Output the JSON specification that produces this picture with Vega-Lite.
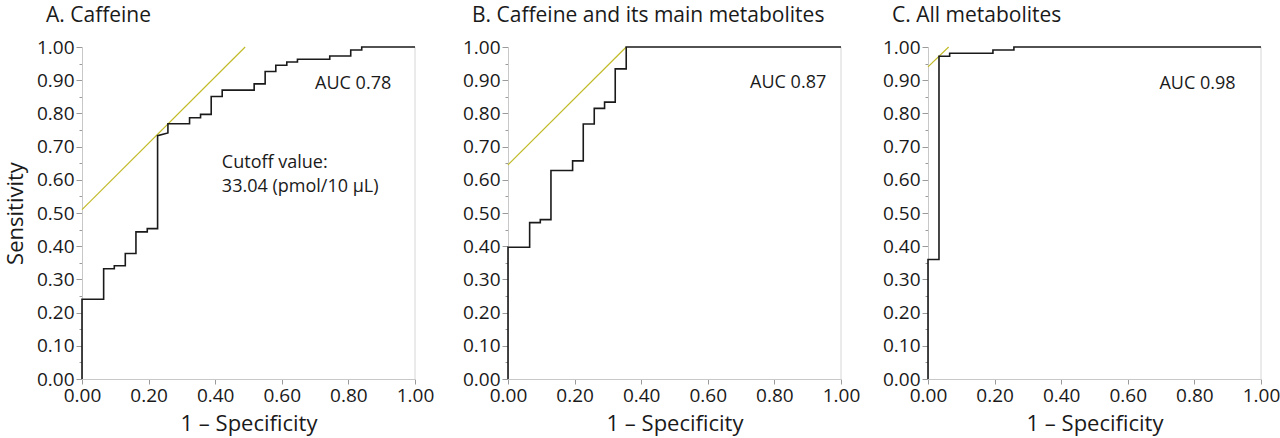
{
  "$schema": "https://vega.github.io/schema/vega-lite/v6.json",
  "padding": {"left": 4, "top": 5, "right": 4, "bottom": 4},
  "background": "white",
  "spacing": 28,
  "config": {
    "font": "Open Sans",
    "view": {"stroke": null},
    "title": {"font": "Open Sans", "fontSize": 21, "fontWeight": "normal", "color": "#1a1a1a", "anchor": "start", "frame": "group", "dx": -36, "offset": 12},
    "axis": {
      "labelFont": "Open Sans", "labelFontSize": 19, "labelColor": "#1a1a1a",
      "titleFont": "Open Sans", "titleFontSize": 22, "titleFontWeight": "normal", "titleColor": "#1a1a1a",
      "domainColor": "#c8c8c8", "tickColor": "#9a9a9a", "grid": false, "labelFlush": false
    }
  },
  "datasets": {
    "roc": [
      {"panel": "A", "i": 0, "fpr": 0, "tpr": 0},
      {"panel": "A", "i": 1, "fpr": 0, "tpr": 0.24},
      {"panel": "A", "i": 2, "fpr": 0.065, "tpr": 0.24},
      {"panel": "A", "i": 3, "fpr": 0.065, "tpr": 0.332},
      {"panel": "A", "i": 4, "fpr": 0.097, "tpr": 0.332},
      {"panel": "A", "i": 5, "fpr": 0.097, "tpr": 0.341},
      {"panel": "A", "i": 6, "fpr": 0.13, "tpr": 0.341},
      {"panel": "A", "i": 7, "fpr": 0.13, "tpr": 0.378},
      {"panel": "A", "i": 8, "fpr": 0.162, "tpr": 0.378},
      {"panel": "A", "i": 9, "fpr": 0.162, "tpr": 0.443},
      {"panel": "A", "i": 10, "fpr": 0.196, "tpr": 0.443},
      {"panel": "A", "i": 11, "fpr": 0.196, "tpr": 0.453},
      {"panel": "A", "i": 12, "fpr": 0.227, "tpr": 0.453},
      {"panel": "A", "i": 13, "fpr": 0.227, "tpr": 0.733},
      {"panel": "A", "i": 14, "fpr": 0.258, "tpr": 0.741},
      {"panel": "A", "i": 15, "fpr": 0.258, "tpr": 0.769},
      {"panel": "A", "i": 16, "fpr": 0.323, "tpr": 0.769},
      {"panel": "A", "i": 17, "fpr": 0.323, "tpr": 0.787},
      {"panel": "A", "i": 18, "fpr": 0.356, "tpr": 0.787},
      {"panel": "A", "i": 19, "fpr": 0.356, "tpr": 0.797},
      {"panel": "A", "i": 20, "fpr": 0.388, "tpr": 0.797},
      {"panel": "A", "i": 21, "fpr": 0.388, "tpr": 0.851},
      {"panel": "A", "i": 22, "fpr": 0.421, "tpr": 0.851},
      {"panel": "A", "i": 23, "fpr": 0.421, "tpr": 0.87},
      {"panel": "A", "i": 24, "fpr": 0.517, "tpr": 0.87},
      {"panel": "A", "i": 25, "fpr": 0.517, "tpr": 0.889},
      {"panel": "A", "i": 26, "fpr": 0.55, "tpr": 0.889},
      {"panel": "A", "i": 27, "fpr": 0.55, "tpr": 0.926},
      {"panel": "A", "i": 28, "fpr": 0.582, "tpr": 0.926},
      {"panel": "A", "i": 29, "fpr": 0.582, "tpr": 0.945},
      {"panel": "A", "i": 30, "fpr": 0.615, "tpr": 0.945},
      {"panel": "A", "i": 31, "fpr": 0.615, "tpr": 0.955},
      {"panel": "A", "i": 32, "fpr": 0.647, "tpr": 0.955},
      {"panel": "A", "i": 33, "fpr": 0.647, "tpr": 0.963},
      {"panel": "A", "i": 34, "fpr": 0.744, "tpr": 0.963},
      {"panel": "A", "i": 35, "fpr": 0.744, "tpr": 0.973},
      {"panel": "A", "i": 36, "fpr": 0.807, "tpr": 0.973},
      {"panel": "A", "i": 37, "fpr": 0.807, "tpr": 0.991},
      {"panel": "A", "i": 38, "fpr": 0.84, "tpr": 0.991},
      {"panel": "A", "i": 39, "fpr": 0.84, "tpr": 1.0},
      {"panel": "A", "i": 40, "fpr": 1.0, "tpr": 1.0},
      {"panel": "B", "i": 0, "fpr": 0, "tpr": 0},
      {"panel": "B", "i": 1, "fpr": 0, "tpr": 0.397},
      {"panel": "B", "i": 2, "fpr": 0.065, "tpr": 0.397},
      {"panel": "B", "i": 3, "fpr": 0.065, "tpr": 0.471},
      {"panel": "B", "i": 4, "fpr": 0.097, "tpr": 0.471},
      {"panel": "B", "i": 5, "fpr": 0.097, "tpr": 0.48},
      {"panel": "B", "i": 6, "fpr": 0.129, "tpr": 0.48},
      {"panel": "B", "i": 7, "fpr": 0.129, "tpr": 0.628},
      {"panel": "B", "i": 8, "fpr": 0.194, "tpr": 0.628},
      {"panel": "B", "i": 9, "fpr": 0.194, "tpr": 0.657},
      {"panel": "B", "i": 10, "fpr": 0.226, "tpr": 0.657},
      {"panel": "B", "i": 11, "fpr": 0.226, "tpr": 0.768},
      {"panel": "B", "i": 12, "fpr": 0.259, "tpr": 0.768},
      {"panel": "B", "i": 13, "fpr": 0.259, "tpr": 0.815},
      {"panel": "B", "i": 14, "fpr": 0.29, "tpr": 0.815},
      {"panel": "B", "i": 15, "fpr": 0.29, "tpr": 0.834},
      {"panel": "B", "i": 16, "fpr": 0.322, "tpr": 0.834},
      {"panel": "B", "i": 17, "fpr": 0.322, "tpr": 0.934},
      {"panel": "B", "i": 18, "fpr": 0.355, "tpr": 0.934},
      {"panel": "B", "i": 19, "fpr": 0.355, "tpr": 1.0},
      {"panel": "B", "i": 20, "fpr": 1.0, "tpr": 1.0},
      {"panel": "C", "i": 0, "fpr": 0, "tpr": 0},
      {"panel": "C", "i": 1, "fpr": 0, "tpr": 0.36},
      {"panel": "C", "i": 2, "fpr": 0.033, "tpr": 0.36},
      {"panel": "C", "i": 3, "fpr": 0.033, "tpr": 0.972},
      {"panel": "C", "i": 4, "fpr": 0.065, "tpr": 0.972},
      {"panel": "C", "i": 5, "fpr": 0.065, "tpr": 0.981},
      {"panel": "C", "i": 6, "fpr": 0.195, "tpr": 0.981},
      {"panel": "C", "i": 7, "fpr": 0.195, "tpr": 0.991},
      {"panel": "C", "i": 8, "fpr": 0.258, "tpr": 0.991},
      {"panel": "C", "i": 9, "fpr": 0.258, "tpr": 1.0},
      {"panel": "C", "i": 10, "fpr": 1.0, "tpr": 1.0}
    ],
    "tangent": [
      {"panel": "A", "fpr": 0, "tpr": 0.51},
      {"panel": "A", "fpr": 0.49, "tpr": 1.0},
      {"panel": "B", "fpr": 0, "tpr": 0.645},
      {"panel": "B", "fpr": 0.355, "tpr": 1.0},
      {"panel": "C", "fpr": 0, "tpr": 0.94},
      {"panel": "C", "fpr": 0.062, "tpr": 1.0}
    ],
    "notes": [
      {"panel": "A", "fpr": 0.70, "tpr": 0.89, "label": "AUC 0.78"},
      {"panel": "A", "fpr": 0.42, "tpr": 0.65, "label": "Cutoff value:"},
      {"panel": "A", "fpr": 0.42, "tpr": 0.578, "label": "33.04 (pmol/10 μL)"},
      {"panel": "B", "fpr": 0.727, "tpr": 0.893, "label": "AUC 0.87"},
      {"panel": "C", "fpr": 0.695, "tpr": 0.89, "label": "AUC 0.98"}
    ],
    "border": [
      {"panel": "A", "fpr": 1.0},
      {"panel": "B", "fpr": 1.0},
      {"panel": "C", "fpr": 1.0}
    ]
  },
  "hconcat": [
    {
      "title": "A. Caffeine",
      "width": 333, "height": 332,
      "layer": [
        {
          "data": {"name": "border"},
          "transform": [{"filter": "datum.panel === 'A'"}],
          "mark": {"type": "rule", "color": "#d6d6d6", "strokeWidth": 1},
          "encoding": {"x": {"field": "fpr", "type": "quantitative", "scale": {"domain": [0, 1]}}}
        },
        {
          "data": {"name": "tangent"},
          "transform": [{"filter": "datum.panel === 'A'"}],
          "mark": {"type": "line", "color": "#c2bb2a", "strokeWidth": 1.2},
          "encoding": {
            "x": {"field": "fpr", "type": "quantitative"},
            "y": {"field": "tpr", "type": "quantitative"}
          }
        },
        {
          "data": {"name": "roc"},
          "transform": [{"filter": "datum.panel === 'A'"}],
          "mark": {"type": "line", "color": "#1a1a1a", "strokeWidth": 1.6},
          "encoding": {
            "x": {"field": "fpr", "type": "quantitative", "scale": {"domain": [0, 1], "nice": false},
              "title": "1 – Specificity",
              "axis": {"values": [0,0.05,0.1,0.15,0.2,0.25,0.3,0.35,0.4,0.45,0.5,0.55,0.6,0.65,0.7,0.75,0.8,0.85,0.9,0.95,1],
                "labelExpr": "abs(datum.value*5 - round(datum.value*5)) < 0.001 ? format(datum.value, '.2f') : ''",
                "tickSize": 5, "labelPadding": 2, "titlePadding": 8}},
            "y": {"field": "tpr", "type": "quantitative", "scale": {"domain": [0, 1], "nice": false},
              "title": "Sensitivity",
              "axis": {"tickCount": 20, "labelOverlap": false,
                "labelExpr": "abs(datum.value*10 - round(datum.value*10)) < 0.001 ? format(datum.value, '.2f') : ''",
                "tickSize": {"condition": {"test": "abs(datum.value*10 - round(datum.value*10)) < 0.001", "value": 6}, "value": 3},
                "labelPadding": 2, "titlePadding": 9}},
            "order": {"field": "i", "type": "quantitative"}
          }
        },
        {
          "data": {"name": "notes"},
          "transform": [{"filter": "datum.panel === 'A'"}],
          "mark": {"type": "text", "align": "left", "baseline": "middle", "fontSize": 18, "font": "Open Sans", "color": "#1a1a1a"},
          "encoding": {
            "x": {"field": "fpr", "type": "quantitative"},
            "y": {"field": "tpr", "type": "quantitative"},
            "text": {"field": "label"}
          }
        }
      ]
    },
    {
      "spacing": 22,
      "hconcat": [
        {
          "title": "B. Caffeine and its main metabolites",
          "width": 333, "height": 332,
          "layer": [
            {
              "data": {"name": "border"},
              "transform": [{"filter": "datum.panel === 'B'"}],
              "mark": {"type": "rule", "color": "#d6d6d6", "strokeWidth": 1},
              "encoding": {"x": {"field": "fpr", "type": "quantitative", "scale": {"domain": [0, 1]}}}
            },
            {
              "data": {"name": "tangent"},
              "transform": [{"filter": "datum.panel === 'B'"}],
              "mark": {"type": "line", "color": "#c2bb2a", "strokeWidth": 1.2},
              "encoding": {
                "x": {"field": "fpr", "type": "quantitative"},
                "y": {"field": "tpr", "type": "quantitative"}
              }
            },
            {
              "data": {"name": "roc"},
              "transform": [{"filter": "datum.panel === 'B'"}],
              "mark": {"type": "line", "color": "#1a1a1a", "strokeWidth": 1.6},
              "encoding": {
                "x": {"field": "fpr", "type": "quantitative", "scale": {"domain": [0, 1], "nice": false},
                  "title": "1 – Specificity",
                  "axis": {"values": [0,0.05,0.1,0.15,0.2,0.25,0.3,0.35,0.4,0.45,0.5,0.55,0.6,0.65,0.7,0.75,0.8,0.85,0.9,0.95,1],
                    "labelExpr": "abs(datum.value*5 - round(datum.value*5)) < 0.001 ? format(datum.value, '.2f') : ''",
                    "tickSize": 5, "labelPadding": 2, "titlePadding": 8}},
                "y": {"field": "tpr", "type": "quantitative", "scale": {"domain": [0, 1], "nice": false},
                  "title": null,
                  "axis": {"tickCount": 20, "labelOverlap": false,
                    "labelExpr": "abs(datum.value*10 - round(datum.value*10)) < 0.001 ? format(datum.value, '.2f') : ''",
                    "tickSize": {"condition": {"test": "abs(datum.value*10 - round(datum.value*10)) < 0.001", "value": 6}, "value": 3},
                    "labelPadding": 2}},
                "order": {"field": "i", "type": "quantitative"}
              }
            },
            {
              "data": {"name": "notes"},
              "transform": [{"filter": "datum.panel === 'B'"}],
              "mark": {"type": "text", "align": "left", "baseline": "middle", "fontSize": 18, "font": "Open Sans", "color": "#1a1a1a"},
              "encoding": {
                "x": {"field": "fpr", "type": "quantitative"},
                "y": {"field": "tpr", "type": "quantitative"},
                "text": {"field": "label"}
              }
            }
          ]
        },
        {
          "title": "C. All metabolites",
          "width": 333, "height": 332,
          "layer": [
            {
              "data": {"name": "border"},
              "transform": [{"filter": "datum.panel === 'C'"}],
              "mark": {"type": "rule", "color": "#d6d6d6", "strokeWidth": 1},
              "encoding": {"x": {"field": "fpr", "type": "quantitative", "scale": {"domain": [0, 1]}}}
            },
            {
              "data": {"name": "tangent"},
              "transform": [{"filter": "datum.panel === 'C'"}],
              "mark": {"type": "line", "color": "#c2bb2a", "strokeWidth": 1.2},
              "encoding": {
                "x": {"field": "fpr", "type": "quantitative"},
                "y": {"field": "tpr", "type": "quantitative"}
              }
            },
            {
              "data": {"name": "roc"},
              "transform": [{"filter": "datum.panel === 'C'"}],
              "mark": {"type": "line", "color": "#1a1a1a", "strokeWidth": 1.6},
              "encoding": {
                "x": {"field": "fpr", "type": "quantitative", "scale": {"domain": [0, 1], "nice": false},
                  "title": "1 – Specificity",
                  "axis": {"values": [0,0.05,0.1,0.15,0.2,0.25,0.3,0.35,0.4,0.45,0.5,0.55,0.6,0.65,0.7,0.75,0.8,0.85,0.9,0.95,1],
                    "labelExpr": "abs(datum.value*5 - round(datum.value*5)) < 0.001 ? format(datum.value, '.2f') : ''",
                    "tickSize": 5, "labelPadding": 2, "titlePadding": 8}},
                "y": {"field": "tpr", "type": "quantitative", "scale": {"domain": [0, 1], "nice": false},
                  "title": null,
                  "axis": {"tickCount": 20, "labelOverlap": false,
                    "labelExpr": "abs(datum.value*10 - round(datum.value*10)) < 0.001 ? format(datum.value, '.2f') : ''",
                    "tickSize": {"condition": {"test": "abs(datum.value*10 - round(datum.value*10)) < 0.001", "value": 6}, "value": 3},
                    "labelPadding": 2}},
                "order": {"field": "i", "type": "quantitative"}
              }
            },
            {
              "data": {"name": "notes"},
              "transform": [{"filter": "datum.panel === 'C'"}],
              "mark": {"type": "text", "align": "left", "baseline": "middle", "fontSize": 18, "font": "Open Sans", "color": "#1a1a1a"},
              "encoding": {
                "x": {"field": "fpr", "type": "quantitative"},
                "y": {"field": "tpr", "type": "quantitative"},
                "text": {"field": "label"}
              }
            }
          ]
        }
      ]
    }
  ]
}
